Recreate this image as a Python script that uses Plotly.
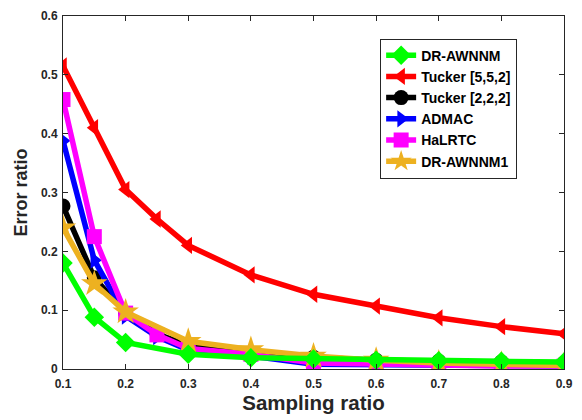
import plotly.graph_objects as go

x_full = [0.1, 0.15, 0.2, 0.25, 0.3, 0.4, 0.5, 0.6, 0.7, 0.8, 0.9]
x_short = [0.1, 0.15, 0.2, 0.3, 0.4, 0.5, 0.6, 0.7, 0.8, 0.9]

tucker552 = [0.515, 0.41, 0.305, 0.255, 0.21, 0.16, 0.127, 0.107, 0.087, 0.072, 0.06]
tucker222 = [0.277, 0.155, 0.095, 0.06, 0.04, 0.025, 0.02, 0.015, 0.013, 0.012, 0.01]
admac = [0.388, 0.185, 0.09, 0.055, 0.032, 0.022, 0.008, 0.008, 0.007, 0.006, 0.005]
halrtc = [0.458, 0.225, 0.095, 0.058, 0.035, 0.025, 0.01, 0.008, 0.006, 0.005, 0.005]
drawnnm1 = [0.24, 0.145, 0.097, 0.047, 0.033, 0.022, 0.015, 0.01, 0.008, 0.006]
drawnnm = [0.18, 0.088, 0.045, 0.025, 0.019, 0.017, 0.015, 0.014, 0.013, 0.012]

series = [
    ("Tucker [5,5,2]", x_full, tucker552, "#FF0000", "triangle-left", 2),
    ("Tucker [2,2,2]", x_full, tucker222, "#000000", "circle", 3),
    ("ADMAC", x_full, admac, "#0000FF", "triangle-right", 4),
    ("HaLRTC", x_full, halrtc, "#FF00FF", "square", 5),
    ("DR-AWNNM1", x_short, drawnnm1, "#EDB120", "star", 6),
    ("DR-AWNNM", x_short, drawnnm, "#00FF00", "diamond", 1),
]

fig = go.Figure()
for name, xs, ys, color, sym, rank in series:
    fig.add_trace(go.Scatter(
        x=xs, y=ys, name=name, mode="lines+markers",
        line=dict(color=color, width=5.5),
        marker=dict(symbol=sym, size=15 if sym != "star" else 20, color=color,
                    line=dict(width=0)),
        legendrank=rank,
    ))

font_family = "Liberation Sans, Arial, sans-serif"
fig.update_layout(
    width=582, height=420,
    margin=dict(l=63, r=17, t=9, b=51),
    plot_bgcolor="white", paper_bgcolor="white",
    font=dict(family=font_family, color="#262626"),
    showlegend=True,
    legend=dict(
        x=0.633, y=0.936, xanchor="left", yanchor="top",
        bgcolor="white", bordercolor="#262626", borderwidth=1,
        font=dict(size=14, family=font_family, color="#000000", weight="bold"),
        itemwidth=30, tracegroupgap=0,
    ),
    xaxis=dict(
        range=[0.1, 0.9], tickvals=[0.1, 0.2, 0.3, 0.4, 0.5, 0.6, 0.7, 0.8, 0.9],
        ticktext=["0.1", "0.2", "0.3", "0.4", "0.5", "0.6", "0.7", "0.8", "0.9"],
        ticks="inside", ticklen=5, tickcolor="#262626",
        showline=True, linecolor="#262626", linewidth=1, mirror="ticks",
        showgrid=False, zeroline=False, ticklabelstandoff=4,
        tickfont=dict(size=12, weight="bold", color="#262626"),
        title=dict(text="Sampling ratio", font=dict(size=20.5, weight="bold", color="#262626"), standoff=5),
    ),
    yaxis=dict(
        range=[0, 0.6], tickvals=[0, 0.1, 0.2, 0.3, 0.4, 0.5, 0.6],
        ticktext=["0", "0.1", "0.2", "0.3", "0.4", "0.5", "0.6"],
        ticks="inside", ticklen=5, tickcolor="#262626",
        showline=True, linecolor="#262626", linewidth=1, mirror="ticks",
        showgrid=False, zeroline=False, ticklabelstandoff=2,
        tickfont=dict(size=12, weight="bold", color="#262626"),
        title=dict(text="Error ratio", font=dict(size=18, weight="bold", color="#262626"), standoff=8),
    ),
)

fig.write_html("out.html", config={"displayModeBar": False},
               post_script="document.body.style.margin='0';document.body.style.overflow='hidden';")
